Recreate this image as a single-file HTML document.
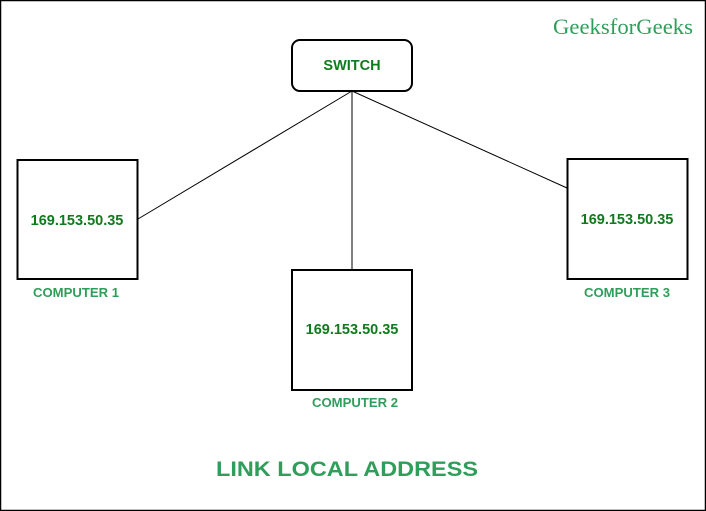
<!DOCTYPE html>
<html><head><meta charset="utf-8"><style>
html,body{margin:0;padding:0;background:#fff;width:706px;height:511px;overflow:hidden}
</style></head><body>
<svg width="706" height="511" xmlns="http://www.w3.org/2000/svg">
<rect x="0.5" y="0.5" width="705" height="510" fill="#fff" stroke="#000" stroke-width="1.5"/>
<text x="623" y="34" text-anchor="middle" font-family="Liberation Serif, serif" font-size="22.5" fill="#2f9e5a" textLength="140" lengthAdjust="spacingAndGlyphs">GeeksforGeeks</text>
<line x1="352" y1="91" x2="138" y2="219" stroke="#000" stroke-width="1"/>
<line x1="352" y1="91" x2="352" y2="270" stroke="#000" stroke-width="1"/>
<line x1="352" y1="91" x2="567" y2="188" stroke="#000" stroke-width="1"/>
<rect x="292" y="40" width="120" height="51" rx="8" fill="#fff" stroke="#000" stroke-width="2"/>
<text x="352" y="70" text-anchor="middle" font-family="Liberation Sans, sans-serif" font-weight="bold" font-size="14.5" fill="#0f7a1e">SWITCH</text>
<rect x="17.5" y="160" width="120" height="119" fill="#fff" stroke="#000" stroke-width="2"/>
<text x="77" y="225" text-anchor="middle" font-family="Liberation Sans, sans-serif" font-weight="bold" font-size="14.5" fill="#0f7a1e">169.153.50.35</text>
<text x="76" y="297" text-anchor="middle" font-family="Liberation Sans, sans-serif" font-weight="bold" font-size="12.5" fill="#2f9e5a" textLength="86" lengthAdjust="spacingAndGlyphs">COMPUTER 1</text>
<rect x="292" y="270" width="120" height="120" fill="#fff" stroke="#000" stroke-width="2"/>
<text x="352" y="334" text-anchor="middle" font-family="Liberation Sans, sans-serif" font-weight="bold" font-size="14.5" fill="#0f7a1e">169.153.50.35</text>
<text x="355" y="407" text-anchor="middle" font-family="Liberation Sans, sans-serif" font-weight="bold" font-size="12.5" fill="#2f9e5a" textLength="86" lengthAdjust="spacingAndGlyphs">COMPUTER 2</text>
<rect x="567.5" y="159" width="120" height="120" fill="#fff" stroke="#000" stroke-width="2"/>
<text x="627" y="224" text-anchor="middle" font-family="Liberation Sans, sans-serif" font-weight="bold" font-size="14.5" fill="#0f7a1e">169.153.50.35</text>
<text x="627" y="297" text-anchor="middle" font-family="Liberation Sans, sans-serif" font-weight="bold" font-size="12.5" fill="#2f9e5a" textLength="86" lengthAdjust="spacingAndGlyphs">COMPUTER 3</text>
<text x="347" y="476" text-anchor="middle" font-family="Liberation Sans, sans-serif" font-weight="bold" font-size="21" fill="#2f9e5a" textLength="262" lengthAdjust="spacingAndGlyphs">LINK LOCAL ADDRESS</text>
</svg>
</body></html>
